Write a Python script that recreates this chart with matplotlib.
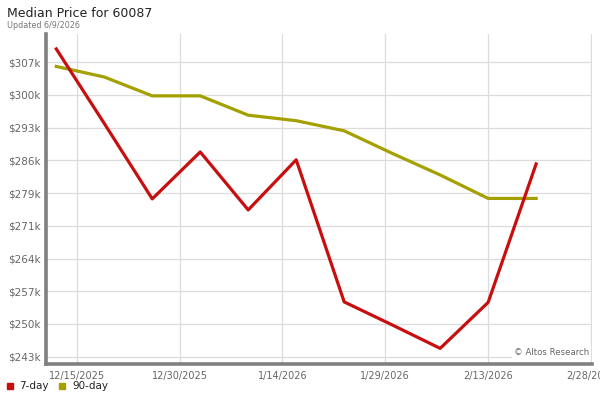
import numpy as np
import matplotlib
matplotlib.use("Agg")
import matplotlib.pyplot as plt
import matplotlib.dates as mdates
import matplotlib.patches as mpatches
from datetime import datetime, timedelta

TITLE    = "Median Price for 60087"
SUBTITLE = "Updated 6/9/2026"

WEEKS = ["2025-12-12", "2025-12-19", "2025-12-26", "2026-01-02", "2026-01-09",
         "2026-01-16", "2026-01-23", "2026-01-30", "2026-02-06", "2026-02-13",
         "2026-02-20"]

# Werte in Tausend Dollar
PRICE_7DAY  = [309.9, 293.7, 277.3, 287.5, 274.9, 285.8, 254.9, 249.9, 244.8, 254.8, 284.9]
PRICE_90DAY = [306.1, 303.8, 299.7, 299.7, 295.5, 294.3, 292.1, 287.2, 282.5, 277.4, 277.4]

Y_TICK_LABELS = ["$243k", "$250k", "$257k", "$264k", "$271k",
                 "$279k", "$286k", "$293k", "$300k", "$307k"]
X_TICK_DATES  = ["2025-12-15", "2025-12-30", "2026-01-14", "2026-01-29",
                 "2026-02-13", "2026-02-28"]

FARBEN = {
    "7-day":  "#c80f0f",
    "90-day": "#a3a000",
}

plt.rcParams["font.family"] = ["DejaVu Sans"]

dates = [datetime.strptime(d, "%Y-%m-%d") for d in WEEKS]
xticks = [datetime.strptime(d, "%Y-%m-%d") for d in X_TICK_DATES]

fig = plt.figure(figsize=(6, 4), dpi=100)
ax = fig.add_axes([46 / 600, 36 / 400, 546 / 600, 330 / 400])

ax.plot(dates, PRICE_90DAY, color=FARBEN["90-day"], linewidth=2.3, zorder=3)
ax.plot(dates, PRICE_7DAY, color=FARBEN["7-day"], linewidth=2.3, zorder=4)

ax.set_xlim(xticks[0] - timedelta(days=4.5), xticks[-1] + timedelta(days=0.15))
ax.set_ylim(241.4, 313.15)

ax.set_yticks(np.linspace(243, 307, len(Y_TICK_LABELS)))
ax.set_yticklabels(Y_TICK_LABELS)
ax.set_xticks(xticks)
ax.xaxis.set_major_formatter(mdates.DateFormatter("%-m/%-d/%Y"))

ax.tick_params(axis="both", length=0, labelcolor="#666666")
ax.tick_params(axis="y", pad=4, labelsize=7.5)
ax.tick_params(axis="x", pad=5, labelsize=7)
for lbl in ax.get_xticklabels():
    lbl.set_clip_on(False)

ax.grid(True, color="#dcdcdc", linewidth=0.9)
ax.set_axisbelow(True)

for side in ["top", "right"]:
    ax.spines[side].set_visible(False)
for side in ["left", "bottom"]:
    ax.spines[side].set_color("#808080")
    ax.spines[side].set_linewidth(2.6)

ax.text(0.995, 0.02, "© Altos Research", transform=ax.transAxes,
        ha="right", va="bottom", fontsize=6.2, color="#666666", zorder=5,
        bbox=dict(facecolor="white", edgecolor="none", pad=1.5))

fig.text(7 / 600, 1 - 13.5 / 400, TITLE, fontsize=9, color="#222222", va="center")
fig.text(7 / 600, 1 - 25 / 400, SUBTITLE, fontsize=5.8, color="#777777", va="center")

# Legende unten links, von Hand gesetzt
legend_items = [("7-day", 7, 19), ("90-day", 59, 72)]
for name, x_box, x_txt in legend_items:
    fig.patches.append(mpatches.Rectangle((x_box / 600, 1 - 389 / 400), 6 / 600, 6 / 400,
                                          transform=fig.transFigure,
                                          color=FARBEN[name]))
    fig.text(x_txt / 600, 1 - 386 / 400, name, fontsize=7.5, color="#222222",
             va="center")

plt.savefig("out.png", dpi=100)
